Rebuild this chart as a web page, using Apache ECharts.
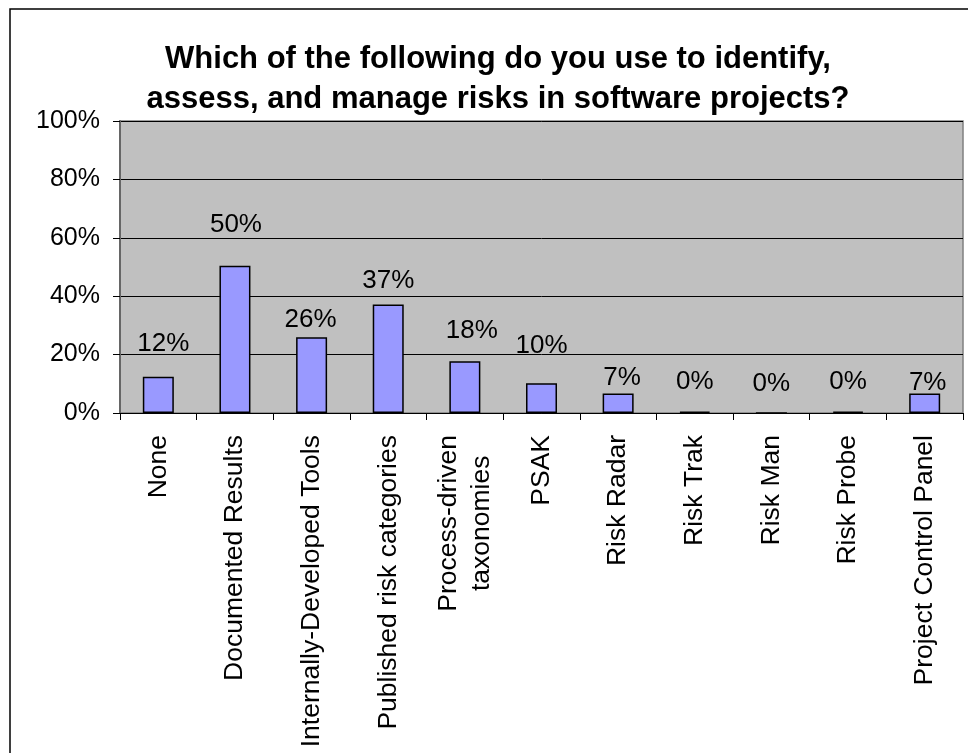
<!DOCTYPE html>
<html>
<head>
<meta charset="utf-8">
<script src="https://cdn.jsdelivr.net/npm/echarts@6/dist/echarts.min.js"></script>
<style>
  html, body { margin: 0; padding: 0; background: #fff; }
  #chart { width: 968px; height: 753px; }
</style>
</head>
<body>
<div id="chart"></div>
<script>
// ================= data =================
const categories = [
  'None', 'Documented Results', 'Internally-Developed Tools', 'Published risk categories',
  'Process-driven\ntaxonomies', 'PSAK', 'Risk Radar', 'Risk Trak', 'Risk Man',
  'Risk Probe', 'Project Control Panel'
]
const shares = [12.4, 50.4, 25.9, 37.2, 17.7, 10.2, 6.7, 0.45, 0, 0.45, 6.7]
const yTicks = [0, 20, 40, 60, 80, 100]

// label nudges (Excel placed them a bit irregularly)
const labelLift = [19.5, 28.5, 4.5, 10.5, 17.5, 24.5, 2.5, 16.5, 15.5, 16.5, -2.5]
const labelShift = [5, 1, -1, 0, 7, 0, 4, 0, 0, 0, 3]

const font = 'Liberation Sans, Arial, sans-serif'

const chart = echarts.init(document.getElementById('chart'))

const option = {
  animation: false,
  textStyle: { fontFamily: font },
  title: {
    text: 'Which of the following do you use to identify,\nassess, and manage risks in software projects?',
    left: 498,
    top: 39,
    padding: 0,
    textAlign: 'center',
    textStyle: {
      fontFamily: font,
      fontSize: 31,
      fontWeight: 'bold',
      color: '#000',
      lineHeight: 40
    }
  },
  graphic: [{
    type: 'rect',
    shape: { x: 10, y: 9, width: 1000, height: 800 },
    style: { fill: 'none', stroke: '#000', lineWidth: 1.5 },
    silent: true
  }],
  grid: {
    left: 120,
    right: 5,
    top: 121,
    bottom: 340,
    show: true,
    backgroundColor: '#C0C0C0',
    borderColor: '#808080',
    borderWidth: 1.5
  },
  xAxis: {
    type: 'category',
    data: categories,
    axisLine: { lineStyle: { color: '#000', width: 1 } },
    axisTick: { show: true, length: 7, lineStyle: { color: '#000' } },
    axisLabel: {
      interval: 0,
      rotate: 90,
      margin: 22,
      color: '#000',
      // centre the lines of two-line labels, like Excel does
      formatter: (v) => v.split('\n').map(s => '{c|' + s + '}').join('\n'),
      rich: {
        c: { align: 'center', fontSize: 26.5, lineHeight: 33, fontFamily: font, color: '#000' }
      }
    }
  },
  yAxis: {
    type: 'value',
    min: yTicks[0],
    max: yTicks[yTicks.length - 1],
    interval: yTicks[1] - yTicks[0],
    axisLine: { show: true, lineStyle: { color: '#666', width: 2 } },
    axisTick: { show: true, length: 7, lineStyle: { color: '#000' } },
    axisLabel: {
      formatter: '{value}%',
      margin: 20,
      fontSize: 25,
      color: '#000',
      fontFamily: font
    },
    splitLine: { lineStyle: { color: '#000', width: 1 } }
  },
  series: [{
    type: 'bar',
    barWidth: 31,
    itemStyle: { color: '#9999FF', borderColor: '#000', borderWidth: 1.5 },
    data: shares.map((v, i) => ({
      value: v,
      label: {
        show: true,
        position: 'top',
        distance: 0,
        offset: [labelShift[i], -labelLift[i]],
        formatter: (p) => Math.round(p.value) + '%',
        fontSize: 26,
        color: '#000',
        fontFamily: font
      }
    }))
  }]
}

chart.setOption(option)
</script>
</body>
</html>
